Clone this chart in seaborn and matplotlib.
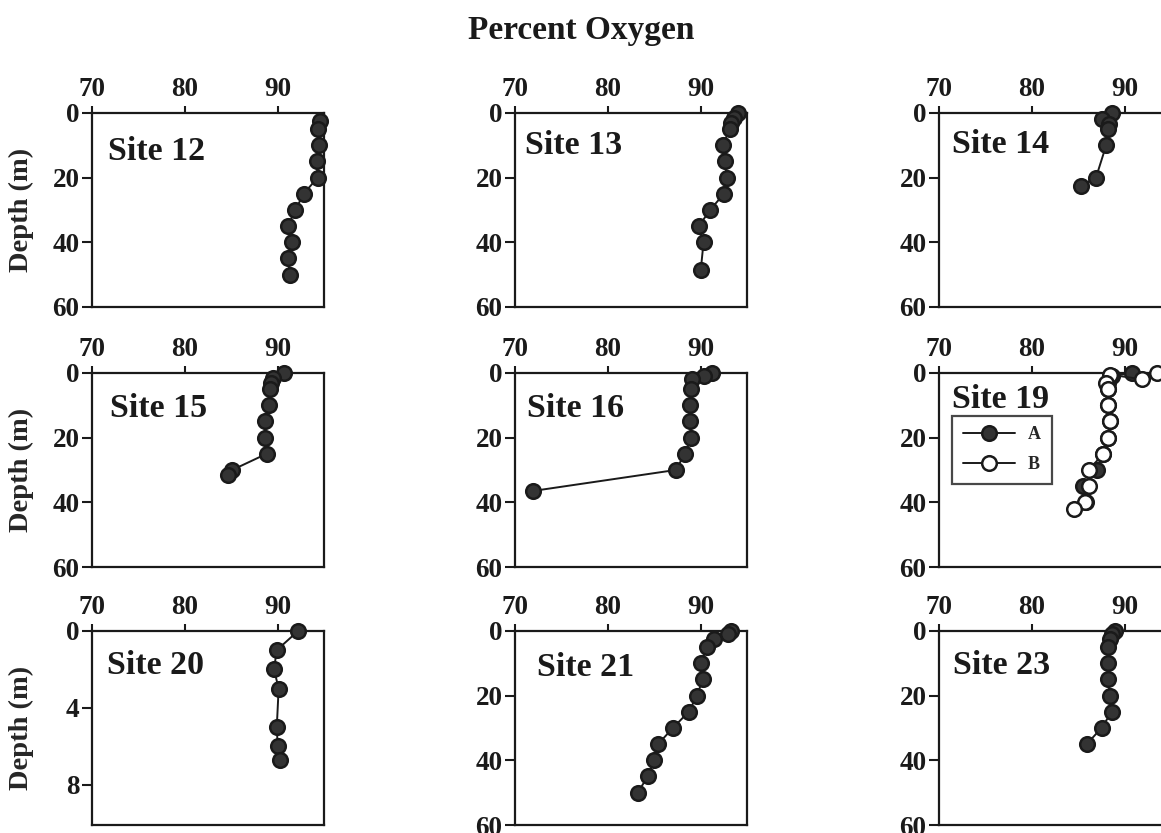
import pandas as pd
import matplotlib
matplotlib.use("Agg")
import matplotlib.pyplot as plt
import seaborn as sns

# Depth (m) and percent oxygen read from each site profile
site12_depth = [2.5, 5, 10, 15, 20, 25, 30, 35, 40, 45, 50]
site12_oxy = [94.5, 94.3, 94.4, 94.2, 94.3, 92.8, 91.9, 91.1, 91.5, 91.1, 91.3]

site13_depth = [0, 1.5, 3, 5, 10, 15, 20, 25, 30, 35, 40, 48.5]
site13_oxy = [94.0, 93.6, 93.3, 93.1, 92.4, 92.6, 92.8, 92.5, 91.0, 89.8, 90.3, 90.0]

site14_depth = [0, 2, 3.5, 5, 10, 20, 22.5]
site14_oxy = [88.6, 87.5, 88.3, 88.2, 88.0, 86.9, 85.3]

site15_depth = [0, 1.5, 3, 5, 10, 15, 20, 25, 30, 31.5]
site15_oxy = [90.7, 89.5, 89.3, 89.2, 89.1, 88.6, 88.6, 88.8, 85.1, 84.7]

site16_depth = [0, 1, 2, 5, 10, 15, 20, 25, 30, 36.5]
site16_oxy = [91.2, 90.4, 89.1, 88.9, 88.8, 88.8, 89.0, 88.3, 87.3, 71.9]

site19a_depth = [0, 1, 3, 5, 10, 15, 20, 25, 30, 35, 40]
site19a_oxy = [90.8, 88.6, 88.2, 88.2, 88.2, 88.4, 88.2, 87.7, 87.0, 85.5, 85.8]
site19b_depth = [0, 2, 0.5, 3, 5, 10, 15, 20, 25, 30, 35, 40, 42]
site19b_oxy = [93.5, 91.9, 88.4, 88.0, 88.2, 88.2, 88.4, 88.2, 87.7, 86.1, 86.1, 85.7, 84.5]

site20_depth = [0, 1, 2, 3, 5, 6, 6.7]
site20_oxy = [92.2, 89.9, 89.6, 90.1, 89.9, 90.0, 90.3]

site21_depth = [0, 1, 2.5, 5, 10, 15, 20, 25, 30, 35, 40, 45, 50]
site21_oxy = [93.2, 92.9, 91.4, 90.7, 90.0, 90.2, 89.6, 88.7, 87.0, 85.4, 85.0, 84.3, 83.2]

site23_depth = [0, 1, 2.5, 5, 10, 15, 20, 25, 30, 35]
site23_oxy = [88.9, 88.6, 88.4, 88.2, 88.2, 88.2, 88.4, 88.6, 87.5, 85.9]

x_ticks = [70, 80, 90]
y_ticks_deep = [0, 20, 40, 60]
y_ticks_shallow = [0, 4, 8]

sns.set_theme(style="ticks")
plt.rcParams["font.family"] = ["Liberation Serif", "DejaVu Serif"]
plt.rcParams["font.weight"] = "bold"

fig = plt.figure(figsize=(11.61, 8.33), dpi=100)

# panel positions [left, bottom, width, height] in figure fraction
col_left = [0.0792, 0.4436, 0.8088]
row_bottom = [0.6315, 0.3193, 0.0096]
w, h = 0.200, 0.233

panels = [
    ("Site 12", [(site12_oxy, site12_depth, "A")], 0, 0, (0.07, 0.80)),
    ("Site 13", [(site13_oxy, site13_depth, "A")], 0, 1, (0.045, 0.83)),
    ("Site 14", [(site14_oxy, site14_depth, "A")], 0, 2, (0.056, 0.835)),
    ("Site 15", [(site15_oxy, site15_depth, "A")], 1, 0, (0.077, 0.815)),
    ("Site 16", [(site16_oxy, site16_depth, "A")], 1, 1, (0.05, 0.815)),
    ("Site 19", [(site19a_oxy, site19a_depth, "A"), (site19b_oxy, site19b_depth, "B")], 1, 2, (0.056, 0.865)),
    ("Site 20", [(site20_oxy, site20_depth, "A")], 2, 0, (0.064, 0.82)),
    ("Site 21", [(site21_oxy, site21_depth, "A")], 2, 1, (0.096, 0.81)),
    ("Site 23", [(site23_oxy, site23_depth, "A")], 2, 2, (0.06, 0.82)),
]

marker_style = {
    "A": dict(markerfacecolor="#333333", markeredgecolor="#1a1a1a"),
    "B": dict(markerfacecolor="white", markeredgecolor="#1a1a1a"),
}

for name, series, r, c, txt_pos in panels:
    ax = fig.add_axes([col_left[c], row_bottom[r], w, h])
    for oxy, depth, lab in series:
        df = pd.DataFrame({"oxygen": oxy, "depth": depth})
        sns.lineplot(data=df, x="oxygen", y="depth", sort=False, estimator=None,
                     color="#1a1a1a", linewidth=1.4, marker="o", markersize=10.5,
                     markeredgewidth=1.8, label=lab, ax=ax, clip_on=False,
                     zorder=3, **marker_style[lab])
    shallow = name == "Site 20"
    ax.set_xlim(70, 95)
    if shallow:
        ax.set_ylim(10.1, 0)
        ax.set_yticks(y_ticks_shallow)
    else:
        ax.set_ylim(60, 0)
        ax.set_yticks(y_ticks_deep)
    ax.set_xticks(x_ticks)
    ax.xaxis.tick_top()
    ax.tick_params(axis="both", direction="out", width=1.5, labelsize=19.5, colors="#1a1a1a")
    ax.tick_params(axis="x", length=5, pad=3)
    ax.tick_params(axis="y", length=7, pad=2)
    for lbl in ax.get_xticklabels() + ax.get_yticklabels():
        lbl.set_fontweight("bold")
    for sp in ax.spines.values():
        sp.set_visible(True)
        sp.set_linewidth(1.6)
        sp.set_color("#1a1a1a")
    ax.set_xlabel("")
    if c == 0:
        ax.set_ylabel("Depth (m)", fontsize=20.5, fontweight="bold")
        ax.yaxis.set_label_coords(-0.25, 0.5)
    else:
        ax.set_ylabel("")
    ax.text(txt_pos[0], txt_pos[1], name, transform=ax.transAxes, fontsize=24.5,
            fontweight="bold", va="center", ha="left", color="#1a1a1a")
    if name == "Site 19":
        leg = ax.legend(loc="upper left", bbox_to_anchor=(0.056, 0.78), fontsize=13,
                        handlelength=2.9, frameon=True, fancybox=False,
                        borderpad=0.6, labelspacing=0.7, handletextpad=0.7,
                        borderaxespad=0, markerscale=1.0)
        leg.get_frame().set_edgecolor("#1a1a1a")
        leg.get_frame().set_linewidth(1.6)
        for t in leg.get_texts():
            t.set_fontweight("bold")
    else:
        ax.get_legend().remove()

fig.text(0.501, 0.963, "Percent Oxygen", ha="center", va="center", fontsize=24,
         fontweight="bold", color="#1a1a1a")

fig.savefig("out.png", dpi=100, facecolor="white")
